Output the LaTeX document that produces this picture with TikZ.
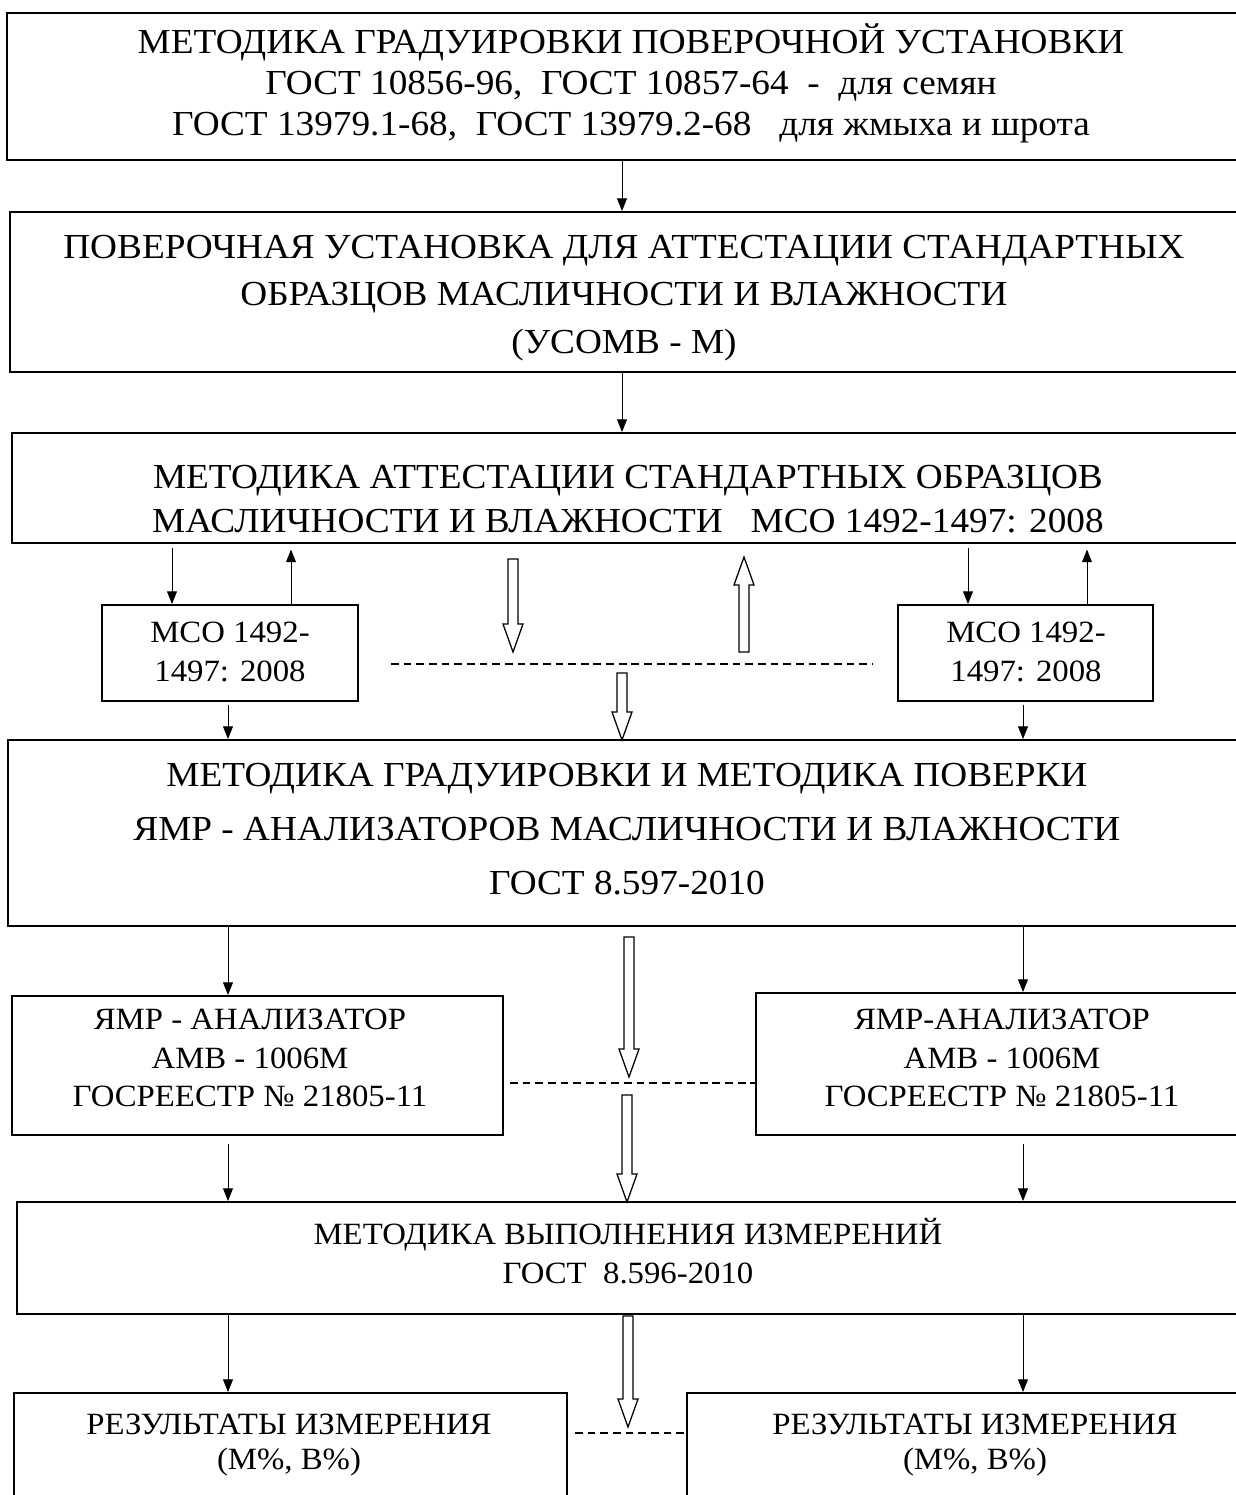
\documentclass[tikz,border=0pt]{standalone}
\usepackage{fontspec}
\setmainfont[FakeStretch=1.06]{Liberation Serif}
\usetikzlibrary{arrows.meta,fit}

% hollow block arrow: x, tail y, tip y
\newcommand{\fatarrow}[3]{%
  \pgfmathsetmacro{\hd}{(#3>#2) ? 28 : -28}
  \draw[fat] (#1-5,#2) -- (#1-5,#3-\hd) -- (#1-10,#3-\hd) -- (#1,#3)
    -- (#1+10,#3-\hd) -- (#1+5,#3-\hd) -- (#1+5,#2) -- cycle;
}

\tikzset{
  box/.style={draw, line width=1.3pt, inner sep=0pt},
  big/.style={align=center, font=\fontsize{25}{29.2}\selectfont},
  small/.style={align=center, font=\fontsize{22}{27.2}\selectfont},
  arr/.style={-{Triangle[length=9pt,width=7pt]}, line width=0.7pt},
  fat/.style={line width=0.9pt, fill=white, line join=miter},
  dashline/.style={line width=0.9pt, dash pattern=on 5.5pt off 3.5pt},
}

\begin{document}
\begin{tikzpicture}[x=0.025cm, y=-0.025cm]
  \useasboundingbox (0,0) rectangle (1236,1495);

  % boxes
  \node[box, fit={(7,13) (1238,160)}] (b1) {};
  \node[box, fit={(10,212) (1238,372)}] (b2) {};
  \node[box, fit={(12,433) (1238,543)}] (b3) {};
  \node[box, fit={(102,605) (358,701)}] (sL) {};
  \node[box, fit={(898,605) (1153,701)}] (sR) {};
  \node[box, fit={(8,740) (1238,926)}] (b4) {};
  \node[box, fit={(12,996) (503,1135)}] (mL) {};
  \node[box, fit={(756,993) (1238,1135)}] (mR) {};
  \node[box, fit={(17,1202) (1238,1314)}] (b5) {};
  \node[box, fit={(14,1393) (567,1510)}] (rL) {};
  \node[box, fit={(687,1393) (1238,1510)}] (rR) {};

  % texts
  \node[big] (t1) at (631,83) {МЕТОДИКА ГРАДУИРОВКИ ПОВЕРОЧНОЙ УСТАНОВКИ\\
    ГОСТ 10856-96,~ ГОСТ 10857-64~ -~ для семян\\
    ГОСТ 13979.1-68,~ ГОСТ 13979.2-68~~ для жмыха и шрота};
  \node[big, font=\fontsize{25}{34}\selectfont] (t2) at (624,298)
    {ПОВЕРОЧНАЯ УСТАНОВКА ДЛЯ АТТЕСТАЦИИ СТАНДАРТНЫХ\\
    ОБРАЗЦОВ МАСЛИЧНОСТИ И ВЛАЖНОСТИ\\ (УСОМВ - М)};
  \node[big, font=\fontsize{25}{31.3}\selectfont] (t3) at (628,499)
    {МЕТОДИКА АТТЕСТАЦИИ СТАНДАРТНЫХ ОБРАЗЦОВ\\
    МАСЛИЧНОСТИ И ВЛАЖНОСТИ~~ МСО 1492-1497: 2008};
  \node[small] (tsL) at (230,652) {МСО 1492-\\1497: 2008};
  \node[small] (tsR) at (1026,652) {МСО 1492-\\1497: 2008};
  \node[big, font=\fontsize{25}{38.4}\selectfont] (t4) at (627,829)
    {МЕТОДИКА ГРАДУИРОВКИ И МЕТОДИКА ПОВЕРКИ\\
    ЯМР - АНАЛИЗАТОРОВ МАСЛИЧНОСТИ И ВЛАЖНОСТИ\\ ГОСТ 8.597-2010};
  \node[small] (tmL) at (250,1058) {ЯМР - АНАЛИЗАТОР\\ АМВ - 1006М\\
    ГОСРЕЕСТР №~21805-11};
  \node[small] (tmR) at (1002,1058) {ЯМР-АНАЛИЗАТОР\\ АМВ - 1006М\\
    ГОСРЕЕСТР №~21805-11};
  \node[small] (t5) at (628,1251) {МЕТОДИКА ВЫПОЛНЕНИЯ ИЗМЕРЕНИЙ\\
    ГОСТ~ 8.596-2010};
  \node[small, font=\fontsize{22}{25}\selectfont] (trL) at (289,1445)
    {РЕЗУЛЬТАТЫ ИЗМЕРЕНИЯ\\ (М\%, В\%)};
  \node[small, font=\fontsize{22}{25}\selectfont] (trR) at (975,1445)
    {РЕЗУЛЬТАТЫ ИЗМЕРЕНИЯ\\ (М\%, В\%)};

  % arrow columns
  \coordinate (c0) at (622,0);
  \coordinate (cA) at (172,0);
  \coordinate (cB) at (291,0);
  \coordinate (cC) at (968,0);
  \coordinate (cD) at (1087,0);
  \coordinate (cE) at (228,0);
  \coordinate (cF) at (1023,0);

  \draw[arr] (b1.south -| c0) -- (b2.north -| c0);
  \draw[arr] (b2.south -| c0) -- (b3.north -| c0);
  \draw[arr] ([yshift=-3pt]b3.south -| cA) -- (sL.north -| cA);
  \draw[arr] (sL.north -| cB) -- ([yshift=-4pt]b3.south -| cB);
  \draw[arr] ([yshift=-3pt]b3.south -| cC) -- (sR.north -| cC);
  \draw[arr] (sR.north -| cD) -- ([yshift=-4pt]b3.south -| cD);
  \draw[arr] ([yshift=-2pt]sL.south -| cE) -- (b4.north -| cE);
  \draw[arr] ([yshift=-2pt]sR.south -| cF) -- (b4.north -| cF);
  \draw[arr] (b4.south -| cE) -- (mL.north -| cE);
  \draw[arr] (b4.south -| cF) -- (mR.north -| cF);
  \draw[arr] ([yshift=-6pt]mL.south -| cE) -- (b5.north -| cE);
  \draw[arr] ([yshift=-6pt]mR.south -| cF) -- (b5.north -| cF);
  \draw[arr] (b5.south -| cE) -- (rL.north -| cE);
  \draw[arr] (b5.south -| cF) -- (rR.north -| cF);

  % hollow arrows
  \fatarrow{513}{559}{652}
  \fatarrow{744}{652}{557}
  \fatarrow{622}{673}{740}
  \fatarrow{629}{937}{1077}
  \fatarrow{627}{1095}{1202}
  \fatarrow{628}{1316}{1427}

  % dashed links
  \coordinate (d1) at (391,664);
  \coordinate (d2) at (872,664);
  \coordinate (d3) at (510,1083);
  \coordinate (d4) at (575,1433);
  \draw[dashline] (d1) -- (d2);
  \draw[dashline] (d3) -- (mR.west |- d3);
  \draw[dashline] (d4) -- (rR.west |- d4);
\end{tikzpicture}
\end{document}
